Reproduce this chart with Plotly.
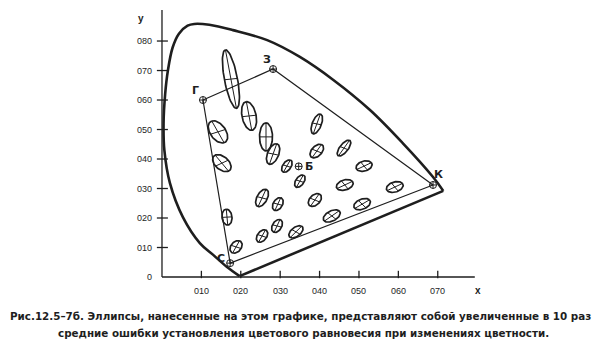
import numpy as np
import plotly.graph_objects as go

# ---- data (chromaticity x, y) ----
locus_x = [0.197, 0.165, 0.130, 0.096, 0.053, 0.020, 0.006, 0.004, 0.008, 0.015,
           0.027, 0.043, 0.065, 0.082, 0.120, 0.180, 0.267, 0.350, 0.435, 0.528,
           0.611, 0.688, 0.714]
locus_y = [0.003, 0.034, 0.075, 0.115, 0.203, 0.319, 0.430, 0.520, 0.620, 0.700,
           0.778, 0.825, 0.852, 0.858, 0.855, 0.837, 0.803, 0.746, 0.668, 0.566,
           0.454, 0.339, 0.292]

pt_names = ["Г", "З", "К", "С"]
pt_x = [0.104, 0.282, 0.688, 0.173]
pt_y = [0.600, 0.705, 0.312, 0.047]

b_name = "Б"
b_x = [0.347]
b_y = [0.375]

# ellipses: centre, semi-major, semi-minor, angle of major axis (deg)
ell_x = [0.175, 0.221, 0.264, 0.282, 0.142, 0.152, 0.165, 0.188, 0.317, 0.350,
         0.254, 0.294, 0.254, 0.292, 0.340, 0.388, 0.431, 0.393, 0.462, 0.393,
         0.513, 0.464, 0.591, 0.508]
ell_y = [0.671, 0.546, 0.475, 0.417, 0.492, 0.386, 0.203, 0.102, 0.376, 0.325,
         0.268, 0.247, 0.139, 0.173, 0.153, 0.261, 0.207, 0.519, 0.437, 0.427,
         0.376, 0.312, 0.305, 0.247]
ell_a = [0.100, 0.049, 0.0475, 0.036, 0.040, 0.032, 0.027, 0.0224, 0.0224, 0.0224,
         0.031, 0.0228, 0.0224, 0.0228, 0.024, 0.0235, 0.0256, 0.0347, 0.0298, 0.0251,
         0.0217, 0.023, 0.023, 0.0236]
ell_b = [0.0167, 0.018, 0.0165, 0.0146, 0.0207, 0.019, 0.0127, 0.0139, 0.0111, 0.0111,
         0.0136, 0.0122, 0.0125, 0.0122, 0.0135, 0.0142, 0.0157, 0.0119, 0.0114, 0.0142,
         0.0163, 0.0163, 0.0163, 0.016]
ell_ang = [98, 98, 90, 75, 113, 122, 94, 67, 67, 67,
           71, 71, 67, 71, 53, 62, 43, 75, 62, 62,
           32, 32, 32, 38]

x_ticks = [0.1, 0.2, 0.3, 0.4, 0.5, 0.6, 0.7]
x_tick_labels = ["010", "020", "030", "040", "050", "060", "070"]
y_ticks = [0.1, 0.2, 0.3, 0.4, 0.5, 0.6, 0.7, 0.8]
y_tick_labels = ["010", "020", "030", "040", "050", "060", "070", "080"]

caption1 = "Рис.12.5–7б. Эллипсы, нанесенные на этом графике, представляют собой увеличенные в 10 раз"
caption2 = "средние ошибки установления цветового равновесия при изменениях цветности."

INK = "#1e1e1e"
fig = go.Figure()

def add_line(xs, ys, width, shape="linear"):
    fig.add_trace(go.Scatter(x=xs, y=ys, mode="lines",
                             line=dict(color=INK, width=width, shape=shape),
                             showlegend=False, hoverinfo="skip"))

# axes
add_line([0, 0.794], [0, 0], 1.3)
add_line([0, 0], [0, 0.905], 1.3)
tx, ty = [], []
for v in x_ticks:
    tx += [v, v, None]; ty += [-0.004, 0.021, None]
for v in y_ticks:
    tx += [-0.013, 0.015, None]; ty += [v, v, None]
add_line(tx, ty, 1.3)

# spectral locus
add_line(locus_x, locus_y, 2.6, "spline")
add_line([locus_x[-1], locus_x[0]], [locus_y[-1], locus_y[0]], 2.6)

# triangle Г-З-К-С
add_line(pt_x + [pt_x[0]], pt_y + [pt_y[0]], 1.2)

# ellipses
t = np.linspace(0, 2 * np.pi, 72)
ex, ey, cx_, cy_ = [], [], [], []
for x0, y0, a, b, ang in zip(ell_x, ell_y, ell_a, ell_b, ell_ang):
    th = np.deg2rad(ang)
    c, s = np.cos(th), np.sin(th)
    xs = x0 + a * np.cos(t) * c - b * np.sin(t) * s
    ys = y0 + a * np.cos(t) * s + b * np.sin(t) * c
    ex += list(xs) + [None]; ey += list(ys) + [None]
    cx_ += [x0 - a * c, x0 + a * c, None, x0 + b * s, x0 - b * s, None]
    cy_ += [y0 - a * s, y0 + a * s, None, y0 - b * c, y0 + b * c, None]
add_line(ex, ey, 1.7)
add_line(cx_, cy_, 1.0)

# points
fig.add_trace(go.Scatter(x=pt_x + b_x, y=pt_y + b_y, mode="markers",
                         marker=dict(symbol="circle-cross-open", size=7,
                                     color=INK, line=dict(width=1, color=INK)),
                         showlegend=False, hoverinfo="skip", cliponaxis=False))

lab_font = dict(family="DejaVu Sans", size=11, color=INK)
shifts = [(-7, 10), (-6, 10), (5, 10), (-9, 5)]
for name, x, y, (dx, dy) in zip(pt_names, pt_x, pt_y, shifts):
    fig.add_annotation(x=x, y=y, text="<b>" + name + "</b>", showarrow=False,
                       xshift=dx, yshift=dy, font=lab_font)
fig.add_annotation(x=b_x[0], y=b_y[0], text="<b>" + b_name + "</b>", showarrow=False,
                   xshift=10, yshift=0, font=lab_font)

tick_font = dict(family="Liberation Sans", size=9, color=INK)
for v, lab in zip(x_ticks, x_tick_labels):
    fig.add_annotation(x=v, y=0, text=lab, showarrow=False, yshift=-14, font=tick_font)
for v, lab in zip(y_ticks, y_tick_labels):
    fig.add_annotation(x=0, y=v, text=lab, showarrow=False, xanchor="right",
                       xshift=-8, font=tick_font)
fig.add_annotation(x=0, y=0, text="0", showarrow=False, xanchor="right",
                   xshift=-8, font=tick_font)
fig.add_annotation(x=0.802, y=0, text="<b>x</b>", showarrow=False, yshift=-14,
                   font=dict(family="Liberation Sans", size=10, color=INK))
fig.add_annotation(x=-0.054, y=0.875, text="<b>y</b>", showarrow=False,
                   font=dict(family="Liberation Sans", size=10, color=INK))

cap_font = dict(family="DejaVu Sans", size=10.35, color=INK)
fig.add_annotation(xref="paper", yref="paper", x=0.4737, y=-0.055, text="<b>" + caption1 + "</b>",
                   showarrow=False, font=cap_font, yanchor="middle")
fig.add_annotation(xref="paper", yref="paper", x=0.484, y=-0.113, text="<b>" + caption2 + "</b>",
                   showarrow=False, font=cap_font, yanchor="middle")

# page body has an 8px default margin, so the figure is 592x348
fig.update_layout(
    width=592, height=348,
    margin=dict(l=112, r=100, t=0, b=56),
    paper_bgcolor="white", plot_bgcolor="white",
    xaxis=dict(range=[-0.1066, 0.858], visible=False, fixedrange=True),
    yaxis=dict(range=[-0.078, 0.912], visible=False, fixedrange=True),
)
fig.write_html("out.html")
